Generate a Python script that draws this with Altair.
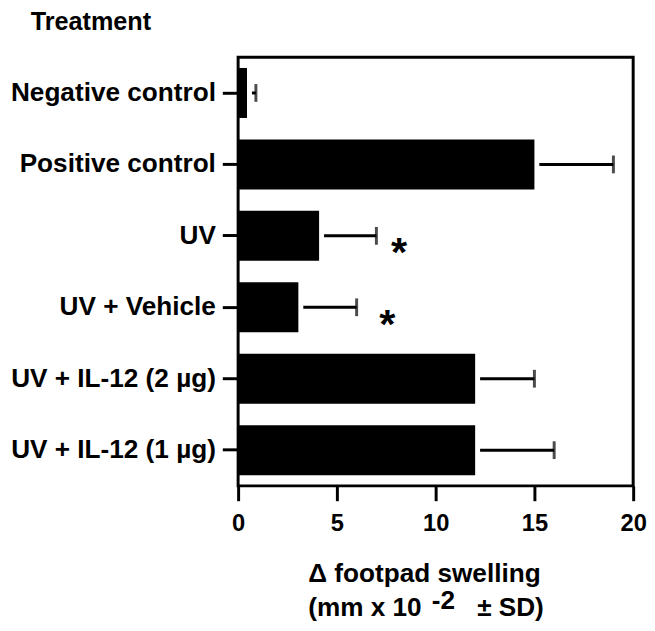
import altair as alt
import pandas as pd

treatments = ["Negative control", "Positive control", "UV", "UV + Vehicle",
              "UV + IL-12 (2 µg)", "UV + IL-12 (1 µg)"]
means = [0.45, 15.0, 4.1, 3.05, 12.0, 12.0]
sds = [0.45, 4.0, 2.9, 2.95, 3.0, 4.0]
star_groups = ["UV", "UV + Vehicle"]
star_x = [8.15, 7.55]
x_ticks = [0, 5, 10, 15, 20]

FONT = "Liberation Sans"

df = pd.DataFrame({"treatment": treatments, "mean": means, "sd": sds})
df["hi"] = df["mean"] + df["sd"]
stars = pd.DataFrame({"treatment": star_groups, "x": star_x, "s": ["*"] * len(star_x)})

ysc = alt.Scale(domain=treatments, paddingInner=0.3, paddingOuter=0.15)
xsc = alt.Scale(domain=[0, 20], nice=False)

yaxis = alt.Axis(title=None, domain=False, ticks=True, tickSize=16, tickWidth=3,
                 tickColor="black", labelFont=FONT, labelFontSize=26.5,
                 labelFontWeight="bold", labelColor="black", labelPadding=7,
                 labelLimit=400)
xaxis = alt.Axis(title=None, domain=False, values=x_ticks, tickSize=15, tickWidth=3,
                 tickColor="black", labelFont=FONT, labelFontSize=24,
                 labelFontWeight="bold", labelColor="black", labelPadding=11,
                 grid=False, labelFlush=False)

base = alt.Chart(df)
bars = base.mark_bar(color="black").encode(
    y=alt.Y("treatment:N", scale=ysc, axis=yaxis, sort=treatments),
    x=alt.X("mean:Q", scale=xsc, axis=xaxis),
)
err = base.mark_rule(color="black", strokeWidth=3, xOffset=5).encode(
    y=alt.Y("treatment:N", scale=ysc, sort=treatments),
    x="mean:Q",
    x2="hi:Q",
)
caps = base.mark_tick(color="black", thickness=3, size=18, orient="vertical").encode(
    y=alt.Y("treatment:N", scale=ysc, sort=treatments),
    x="hi:Q",
)
star_layer = alt.Chart(stars).mark_text(
    font=FONT, fontSize=42, fontWeight="bold", color="black",
    baseline="middle", align="center", dy=18,
).encode(
    y=alt.Y("treatment:N", scale=ysc, sort=treatments),
    x="x:Q",
    text="s:N",
)


def label(txt, px, py, size=26.5):
    return alt.Chart(pd.DataFrame({"t": [txt]})).mark_text(
        font=FONT, fontSize=size, fontWeight="bold", color="black",
        align="left", baseline="alphabetic",
    ).encode(text="t:N", x=alt.value(px), y=alt.value(py))


titles = [
    label("Treatment", -210, -28, 25.5),
    label("Δ footpad swelling", 71, 531),
    label("(mm x 10", 71, 566),
    label("-2", 196, 559),
    label("± SD)", 242, 566),
]

chart = alt.layer(bars, err, caps, star_layer, *titles).properties(
    width=400,
    height=434,
    padding={"left": 233, "top": 46, "right": 14, "bottom": 137},
    autosize=alt.AutoSizeParams(type="none"),
).configure_view(stroke="black", strokeWidth=3)

chart.save("out.html", embed_options={"renderer": "svg", "actions": False})
